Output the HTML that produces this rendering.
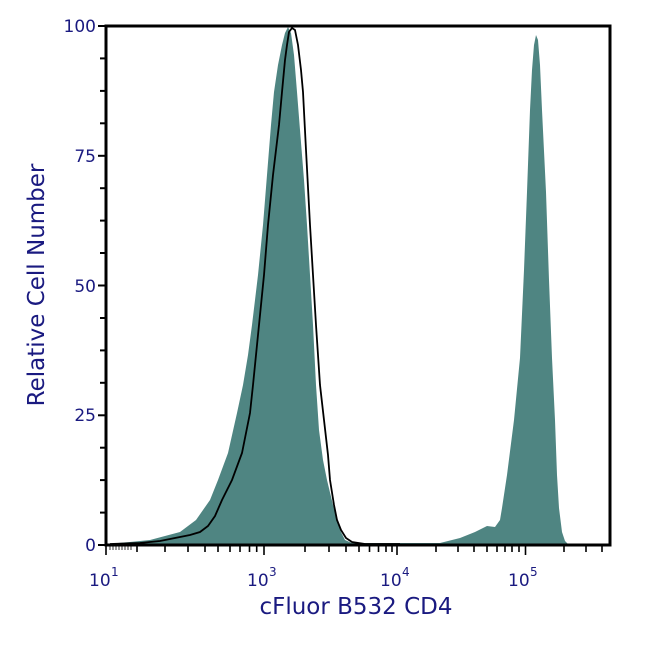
<!DOCTYPE html>
<html><head><style>
html,body{margin:0;padding:0;background:#fff;}
svg{display:block;}
text{font-family:"DejaVu Sans","Liberation Sans",sans-serif;fill:#1a1a80;}
</style></head><body>
<svg width="650" height="650" viewBox="0 0 650 650" xmlns="http://www.w3.org/2000/svg">
<!-- filled histogram -->
<path fill="#4f8582" d="M107,544 L130,542 L150,540 L165,536 L180,532 L196,520 L210,500 L218,480 L228,453 L237,413 L243,385 L248,355 L252,325 L258,275 L263,225 L267,175 L271,125 L274,92 L278,65 L282,45 L285,33 L288,27 L291,33 L294,55 L297,92 L300,130 L304,180 L307,225 L310,275 L313,325 L316,385 L319,430 L323,460 L327,480 L333,505 L337,520 L341,532 L345,540 L352,543 L440,543 L460,538 L475,532 L487,526 L495,527 L500,520 L502,508 L507,475 L514,420 L520,358 L524,270 L527,192 L530,110 L532,70 L534,45 L536,35 L538,40 L540,65 L542,110 L546,192 L549,280 L552,358 L555,420 L557,475 L559,508 L562,532 L565,541 L568,544 Z"/>
<!-- black outline -->
<path fill="none" stroke="#000" stroke-width="1.8" d="M110,544 L140,543 L160,541 L175,538 L190,535 L200,532 L208,526 L215,516 L222,500 L232,480 L242,453 L250,413 L253,385 L256,355 L259,325 L264,275 L268,225 L273,175 L279,125 L282,92 L285,60 L287,45 L289,32 L292,28 L295,30 L298,45 L301,70 L303,92 L306,150 L310,225 L313,275 L316,325 L318,355 L320,385 L324,420 L328,455 L330,480 L334,505 L337,520 L341,530 L346,538 L352,542 L365,544 L400,544"/>
<!-- frame -->
<rect x="106" y="26" width="504" height="519" fill="none" stroke="#000" stroke-width="3"/>
<!-- y ticks -->
<g stroke="#000" stroke-width="2">
<line x1="98" y1="26" x2="106" y2="26"/><line x1="100" y1="58.4" x2="106" y2="58.4"/><line x1="100" y1="90.9" x2="106" y2="90.9"/><line x1="100" y1="123.3" x2="106" y2="123.3"/>
<line x1="98" y1="155.8" x2="106" y2="155.8"/><line x1="100" y1="188.2" x2="106" y2="188.2"/><line x1="100" y1="220.6" x2="106" y2="220.6"/><line x1="100" y1="253" x2="106" y2="253"/>
<line x1="98" y1="285.5" x2="106" y2="285.5"/><line x1="100" y1="318" x2="106" y2="318"/><line x1="100" y1="350.4" x2="106" y2="350.4"/><line x1="100" y1="382.8" x2="106" y2="382.8"/>
<line x1="98" y1="415.3" x2="106" y2="415.3"/><line x1="100" y1="447.7" x2="106" y2="447.7"/><line x1="100" y1="480.1" x2="106" y2="480.1"/><line x1="100" y1="512.6" x2="106" y2="512.6"/>
<line x1="98" y1="545" x2="106" y2="545"/>
</g>
<!-- x ticks -->
<g stroke="#000" stroke-width="1.6">
<line x1="106" y1="545" x2="106" y2="555"/><line x1="264" y1="545" x2="264" y2="555"/><line x1="397" y1="545" x2="397" y2="555"/><line x1="525.5" y1="545" x2="525.5" y2="555"/>
<line x1="137" y1="545" x2="137" y2="552"/><line x1="165" y1="545" x2="165" y2="552"/><line x1="188" y1="545" x2="188" y2="552"/><line x1="205" y1="545" x2="205" y2="552"/><line x1="218" y1="545" x2="218" y2="552"/><line x1="230" y1="545" x2="230" y2="552"/><line x1="240" y1="545" x2="240" y2="552"/><line x1="249.5" y1="545" x2="249.5" y2="552"/><line x1="256.7" y1="545" x2="256.7" y2="552"/>
<line x1="305" y1="545" x2="305" y2="552"/><line x1="329" y1="545" x2="329" y2="552"/><line x1="346" y1="545" x2="346" y2="552"/><line x1="359" y1="545" x2="359" y2="552"/><line x1="369.5" y1="545" x2="369.5" y2="552"/><line x1="378.5" y1="545" x2="378.5" y2="552"/><line x1="386" y1="545" x2="386" y2="552"/><line x1="392" y1="545" x2="392" y2="552"/>
<line x1="436" y1="545" x2="436" y2="552"/><line x1="458" y1="545" x2="458" y2="552"/><line x1="474" y1="545" x2="474" y2="552"/><line x1="487" y1="545" x2="487" y2="552"/><line x1="497" y1="545" x2="497" y2="552"/><line x1="505" y1="545" x2="505" y2="552"/><line x1="512" y1="545" x2="512" y2="552"/><line x1="519" y1="545" x2="519" y2="552"/>
<line x1="564" y1="545" x2="564" y2="552"/><line x1="586" y1="545" x2="586" y2="552"/><line x1="602" y1="545" x2="602" y2="552"/>
</g>
<g stroke="#000" stroke-width="0.8">
<line x1="110" y1="545" x2="110" y2="550"/><line x1="113" y1="545" x2="113" y2="550"/><line x1="116" y1="545" x2="116" y2="550"/><line x1="119" y1="545" x2="119" y2="550"/><line x1="122" y1="545" x2="122" y2="550"/><line x1="125" y1="545" x2="125" y2="550"/><line x1="128" y1="545" x2="128" y2="550"/><line x1="131" y1="545" x2="131" y2="550"/>
</g>
<!-- y labels -->
<g font-size="17" text-anchor="end">
<text x="96" y="32">100</text><text x="96" y="162">75</text><text x="96" y="292">50</text><text x="96" y="421">25</text><text x="96" y="551">0</text>
</g>
<!-- x labels -->
<g font-size="17">
<text x="89" y="586">10</text><text x="111" y="576" font-size="12">1</text>
<text x="247" y="586">10</text><text x="269" y="576" font-size="12">3</text>
<text x="380" y="586">10</text><text x="402" y="576" font-size="12">4</text>
<text x="508" y="586">10</text><text x="530" y="576" font-size="12">5</text>
</g>
<text x="356" y="614" font-size="23" text-anchor="middle">cFluor B532 CD4</text>
<text transform="translate(44,285) rotate(-90)" font-size="23" text-anchor="middle">Relative Cell Number</text>
</svg>
</body></html>
